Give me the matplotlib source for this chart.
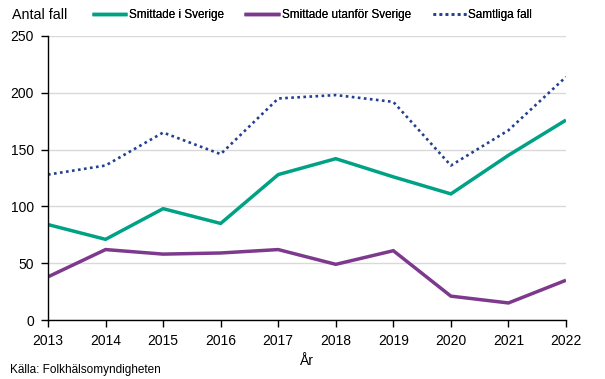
import matplotlib
matplotlib.use("Agg")
import matplotlib.pyplot as plt
from matplotlib.lines import Line2D

years = [2013, 2014, 2015, 2016, 2017, 2018, 2019, 2020, 2021, 2022]
sverige = [84, 71, 98, 85, 128, 142, 126, 111, 145, 176]
utanfor = [38, 62, 58, 59, 62, 49, 61, 21, 15, 35]
samtliga = [128, 136, 165, 146, 195, 198, 192, 136, 167, 214]

series_names = ['Smittade i Sverige', 'Smittade utanför Sverige', 'Samtliga fall']
colors = ['#00a285', '#7d3a8d', '#243f8f']
dotted = (0, (1, 1.3))

plt.rcParams['font.family'] = ['Liberation Sans', 'DejaVu Sans']

W, H = 605, 379
fig = plt.figure(figsize=(W / 100, H / 100), dpi=100)
# plot area in pixels: left 48, right 566, top 36, bottom 320
ax = fig.add_axes([48 / W, 1 - 320 / H, (566 - 48) / W, (320 - 36) / H])

styles = [
    dict(lw=2.5, linestyle='-', solid_capstyle='butt'),
    dict(lw=2.5, linestyle='-', solid_capstyle='butt'),
    dict(lw=1.9, linestyle=dotted, dash_capstyle='butt'),
]
for vals, c, st in zip([sverige, utanfor, samtliga], colors, styles):
    ax.plot(years, vals, color=c, solid_joinstyle='miter', **st)

ax.set_xlim(2013, 2022)
ax.set_ylim(0, 250)
ax.set_xticks(years)
ax.set_yticks(range(0, 251, 50))
ax.tick_params(axis='x', direction='out', length=5, width=1, labelsize=10, pad=5)
ax.tick_params(axis='y', direction='out', length=5, width=1, labelsize=10, pad=5)
ax.grid(axis='y', color='#d9d9d9', lw=1)
ax.set_axisbelow(True)
for s in ['top', 'right']:
    ax.spines[s].set_visible(False)
for s in ['left', 'bottom']:
    ax.spines[s].set_linewidth(1)
    ax.spines[s].set_color('black')

fig.text(307 / W, 1 - 361 / H, 'År', fontsize=10, va='center', ha='center')
fig.text(12 / W, 1 - 15 / H, 'Antal fall', fontsize=10.3, va='center', ha='left')
fig.text(10 / W, 1 - 370 / H, 'Källa: Folkhälsomyndigheten', fontsize=8.5, va='center', ha='left')

# legend entries placed one by one along the top
legend_x = [92, 244, 433]
legend_len = [35, 36, 33]
fs = 8.5
for name, c, st, x, ln in zip(series_names, colors, styles, legend_x, legend_len):
    handle = Line2D([], [], color=c, **st)
    leg = fig.legend([handle], [name], loc='center left', bbox_to_anchor=(x / W, 1 - 15 / H),
                     frameon=False, fontsize=fs, handlelength=ln / (fs * 100 / 72),
                     handletextpad=0.2, borderaxespad=0, borderpad=0)
    fig.add_artist(leg)

fig.savefig('out.png', dpi=100)
